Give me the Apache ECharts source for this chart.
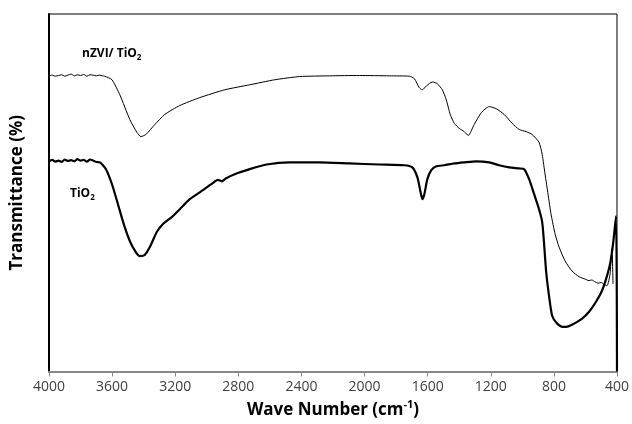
<!DOCTYPE html>
<html>
<head>
<meta charset="utf-8">
<script src="https://cdn.jsdelivr.net/npm/echarts@6/dist/echarts.min.js"></script>
<style>
  html, body { margin: 0; padding: 0; background: #fff; }
  #chart { width: 632px; height: 424px; }
</style>
</head>
<body>
<div id="chart"></div>
<script>
// x tick labels (cm-1), axis runs high -> low
var waveTicks = [4000, 3600, 3200, 2800, 2400, 2000, 1600, 1200, 800, 400];

// nZVI/TiO2 spectrum (thin line)
var nzviWave = [4000, 3980, 3960, 3940, 3920, 3900, 3880, 3860, 3840, 3820, 3800, 3780, 3760, 3740, 3720, 3700, 3680, 3660,
  3646, 3601, 3551, 3488, 3443, 3418, 3386, 3329, 3266, 3171,
  3045, 2886, 2728, 2570, 2412, 2222, 2032, 1843, 1716, 1684, 1653, 1634, 1608, 1570, 1539, 1507, 1482, 1457, 1431, 1400,
  1368, 1343, 1305, 1260, 1210, 1165, 1115, 1064, 1020, 976, 938, 894, 874, 856, 837, 818, 792, 767, 729, 685, 640, 600,
  577, 560, 540, 520, 500, 480, 463, 444, 432, 425];
var nzviT = [82.7, 82.9, 82.6, 82.8, 83.0, 82.6, 82.9, 83.2, 82.7, 83.0, 82.8, 83.1, 82.6, 83.0, 82.9, 82.7, 82.9, 82.7,
  82.6, 81.6, 77.4, 70.5, 66.9, 65.7, 66.3, 69.1, 71.9, 74.4,
  76.6, 78.8, 80.2, 81.6, 82.5, 82.7, 82.8, 82.7, 82.6, 81.9, 79.4, 78.8, 79.9, 81.0, 80.5, 78.8, 76.0, 71.9, 69.4, 68.0,
  67.1, 66.0, 69.1, 72.4, 74.1, 73.5, 71.9, 69.4, 67.7, 67.1, 66.3, 64.1, 60.7, 55.2, 49.6, 44.0, 38.4, 34.8, 30.9, 28.1, 26.5, 25.8,
  25.4, 25.6, 25.1, 24.7, 24.9, 24.3, 24.0, 27.3, 34.3, 24.5];

// TiO2 spectrum (thick line)
var tio2Wave = [4000, 3980, 3960, 3940, 3920, 3900, 3880, 3860, 3840, 3820, 3800, 3780, 3760, 3740, 3720, 3700, 3677, 3639,
  3601, 3563, 3526, 3488, 3450, 3424, 3393, 3361, 3317,
  3279, 3222, 3171, 3108, 3045, 2962, 2930, 2905, 2880, 2823, 2728, 2621, 2475, 2285, 2096, 1906, 1748, 1697, 1665, 1646,
  1634, 1621, 1602, 1577, 1545, 1495, 1431, 1368, 1292, 1210, 1147, 1083, 1020, 988, 957, 925, 894, 874, 862, 849, 830,
  811, 780, 748, 723, 685, 621, 577, 533, 495, 469, 444, 425, 406, 400];
var tio2T = [58.8, 59.2, 58.7, 59.0, 58.6, 59.3, 58.9, 59.1, 58.8, 59.4, 59.0, 59.2, 58.7, 59.3, 59.0, 58.6, 58.5, 56.6,
  52.4, 46.8, 41.2, 36.5, 33.4, 32.3, 32.6, 34.8, 39.0,
  41.2, 43.2, 45.4, 48.2, 50.1, 52.7, 53.6, 53.2, 54.0, 55.2, 56.6, 57.9, 58.5, 58.5, 58.2, 57.9, 57.7, 57.1, 54.3, 50.4,
  48.2, 49.6, 53.8, 56.3, 57.4, 57.7, 58.2, 58.5, 58.8, 58.5, 57.7, 57.1, 56.8, 56.6, 53.8, 49.6, 45.4, 41.8, 35.7, 27.9, 20.9,
  15.6, 13.4, 12.5, 12.5, 13.1, 14.8, 16.7, 19.5, 22.6, 25.9, 30.1, 35.7, 43.5, 0];

function pairs(xs, ys) {
  var out = [];
  for (var i = 0; i < xs.length; i++) out.push([xs[i], ys[i]]);
  return out;
}

var chart = echarts.init(document.getElementById('chart'));
var font = '"Open Sans", Lato, sans-serif';

chart.setOption({
  animation: false,
  backgroundColor: '#fff',
  grid: {
    left: 49, right: 14, top: 14, bottom: 51,
    show: true, borderColor: '#000', borderWidth: 1
  },
  xAxis: {
    type: 'value',
    inverse: true,
    min: 400, max: 4000, interval: 400,
    name: '{b|Wave Number (cm}{s|-1}{b|)}',
    nameLocation: 'middle',
    nameGap: 28,
    nameTextStyle: {
      rich: {
        b: { fontFamily: font, fontSize: 17, fontWeight: 'bold', color: '#000', lineHeight: 22, verticalAlign: 'middle' },
        s: { fontFamily: font, fontSize: 11, fontWeight: 'bold', color: '#000', verticalAlign: 'top' }
      }
    },
    axisLine: { lineStyle: { color: '#888', width: 2 } },
    axisTick: { show: true, length: 5, lineStyle: { color: '#888', width: 1 } },
    axisLabel: {
      margin: 9, fontFamily: font, fontSize: 14, color: '#404040',
      showMinLabel: true, showMaxLabel: true,
      formatter: function (v) { return waveTicks.indexOf(v) >= 0 ? String(v) : ''; }
    },
    splitLine: { show: false }
  },
  yAxis: {
    type: 'value',
    min: 0, max: 100,
    name: 'Transmittance (%)',
    nameLocation: 'middle',
    nameGap: 23,
    nameTextStyle: { fontFamily: font, fontSize: 17, fontWeight: 'bold', color: '#000' },
    axisLine: { show: true, lineStyle: { color: '#000', width: 2 } },
    axisTick: { show: false },
    axisLabel: { show: false },
    splitLine: { show: false }
  },
  series: [
    {
      name: 'nZVI/ TiO2',
      type: 'line',
      data: pairs(nzviWave, nzviT),
      showSymbol: false,
      smooth: 0.2,
      lineStyle: { color: '#000', width: 1 },
      z: 3
    },
    {
      name: 'TiO2',
      type: 'line',
      data: pairs(tio2Wave, tio2T),
      showSymbol: false,
      smooth: 0.2,
      lineStyle: { color: '#000', width: 2.2 },
      z: 4
    }
  ],
  graphic: [
    {
      type: 'text', left: 82, top: 48,
      style: {
        text: '{b|nZVI/ TiO}{s|2}',
        rich: {
          b: { fontFamily: font, fontSize: 12, fontWeight: 'bold', fill: '#000', lineHeight: 16, verticalAlign: 'middle' },
          s: { fontFamily: font, fontSize: 8, fontWeight: 'bold', fill: '#000', verticalAlign: 'bottom' }
        }
      }
    },
    {
      type: 'text', left: 70, top: 188,
      style: {
        text: '{b|TiO}{s|2}',
        rich: {
          b: { fontFamily: font, fontSize: 12, fontWeight: 'bold', fill: '#000', lineHeight: 16, verticalAlign: 'middle' },
          s: { fontFamily: font, fontSize: 8, fontWeight: 'bold', fill: '#000', verticalAlign: 'bottom' }
        }
      }
    }
  ]
});
</script>
</body>
</html>
